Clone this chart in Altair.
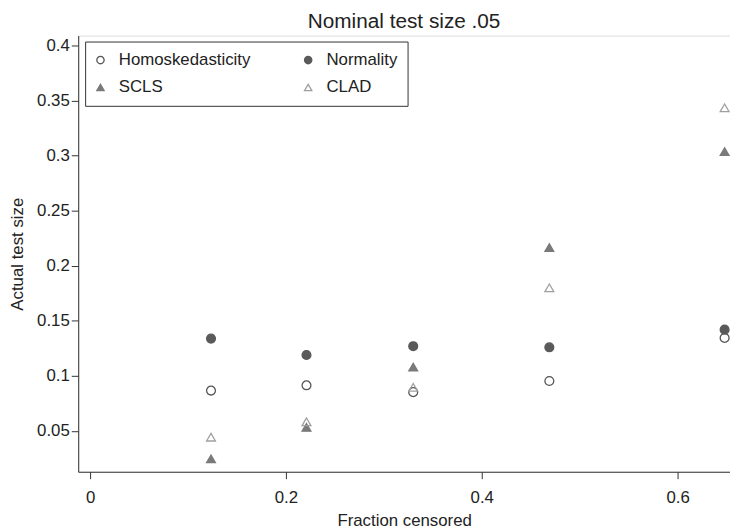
import altair as alt
import pandas as pd

fraction_censored = [0.1235, 0.221, 0.330, 0.469, 0.648]
homoskedasticity = [0.0867, 0.0915, 0.0853, 0.0954, 0.1345]
normality = [0.1339, 0.119, 0.127, 0.126, 0.142]
scls = [0.0247, 0.0533, 0.108, 0.2165, 0.3037]
clad = [0.0444, 0.0584, 0.0897, 0.180, 0.3434]

series_names = ["Homoskedasticity", "Normality", "SCLS", "CLAD"]
series_values = [homoskedasticity, normality, scls, clad]

rows = []
for name, vals in zip(series_names, series_values):
    for x, v in zip(fraction_censored, vals):
        rows.append({"fraction": x, "size": v, "series": name})
df = pd.DataFrame(rows)

x_ticks = [0, 0.2, 0.4, 0.6]
y_ticks = [0.05, 0.1, 0.15, 0.2, 0.25, 0.3, 0.35, 0.4]

FONT = "Liberation Sans"
AX = "#333333"

chart = alt.Chart(df).mark_point(size=80, strokeWidth=1.3, opacity=1).encode(
    x=alt.X("fraction:Q",
            scale=alt.Scale(domain=[-0.0121, 0.6535], nice=False, zero=False),
            axis=alt.Axis(values=x_ticks, format="~g", title="Fraction censored",
                          grid=False, tickSize=7, labelPadding=11, titlePadding=7,
                          labelFontSize=17, titleFontSize=17, titleFontWeight="normal",
                          labelFont=FONT, titleFont=FONT, labelColor="#222",
                          titleColor="#222", domainColor=AX, tickColor=AX,
                          labelFlush=False)),
    y=alt.Y("size:Q",
            scale=alt.Scale(domain=[0.013, 0.409], nice=False, zero=False),
            axis=alt.Axis(values=y_ticks, format="~g", title="Actual test size",
                          grid=False, tickSize=7, labelPadding=2, titlePadding=10,
                          labelFontSize=17, titleFontSize=17, titleFontWeight="normal",
                          labelFont=FONT, titleFont=FONT, labelColor="#222",
                          titleColor="#222", domainColor=AX, tickColor=AX,
                          labelFlush=False)),
    shape=alt.Shape("series:N",
                    scale=alt.Scale(domain=series_names,
                                    range=["circle", "circle", "triangle-up", "triangle-up"]),
                    legend=alt.Legend(title=None, orient="none", legendX=7, legendY=6,
                                      columns=2, direction="horizontal",
                                      labelFontSize=17, labelFont=FONT, labelColor="#222",
                                      labelLimit=300, labelOffset=10,
                                      symbolOffset=-3,
                                      columnPadding=51, rowPadding=10, padding=10,
                                      symbolSize=55, symbolStrokeWidth=1.3,
                                      strokeColor=AX, fillColor="white")),
    stroke=alt.Stroke("series:N",
                      scale=alt.Scale(domain=series_names,
                                      range=["#555555", "#5a5a5a", "#7a7a7a", "#a0a0a0"])),
    fill=alt.Fill("series:N",
                  scale=alt.Scale(domain=series_names,
                                  range=["transparent", "#5a5a5a", "#7a7a7a", "transparent"])),
).properties(
    width=659,
    height=441,
    title=alt.TitleParams("Nominal test size .05", fontSize=21, font=FONT,
                          fontWeight="normal", color="#222", anchor="middle", offset=4),
    autosize=alt.AutoSizeParams(type="none"),
    padding={"left": 71, "top": 25, "right": 0, "bottom": 58},
).configure_view(stroke=None).configure(background="white")

chart.save("out.html", embed_options={"renderer": "svg", "actions": False})
